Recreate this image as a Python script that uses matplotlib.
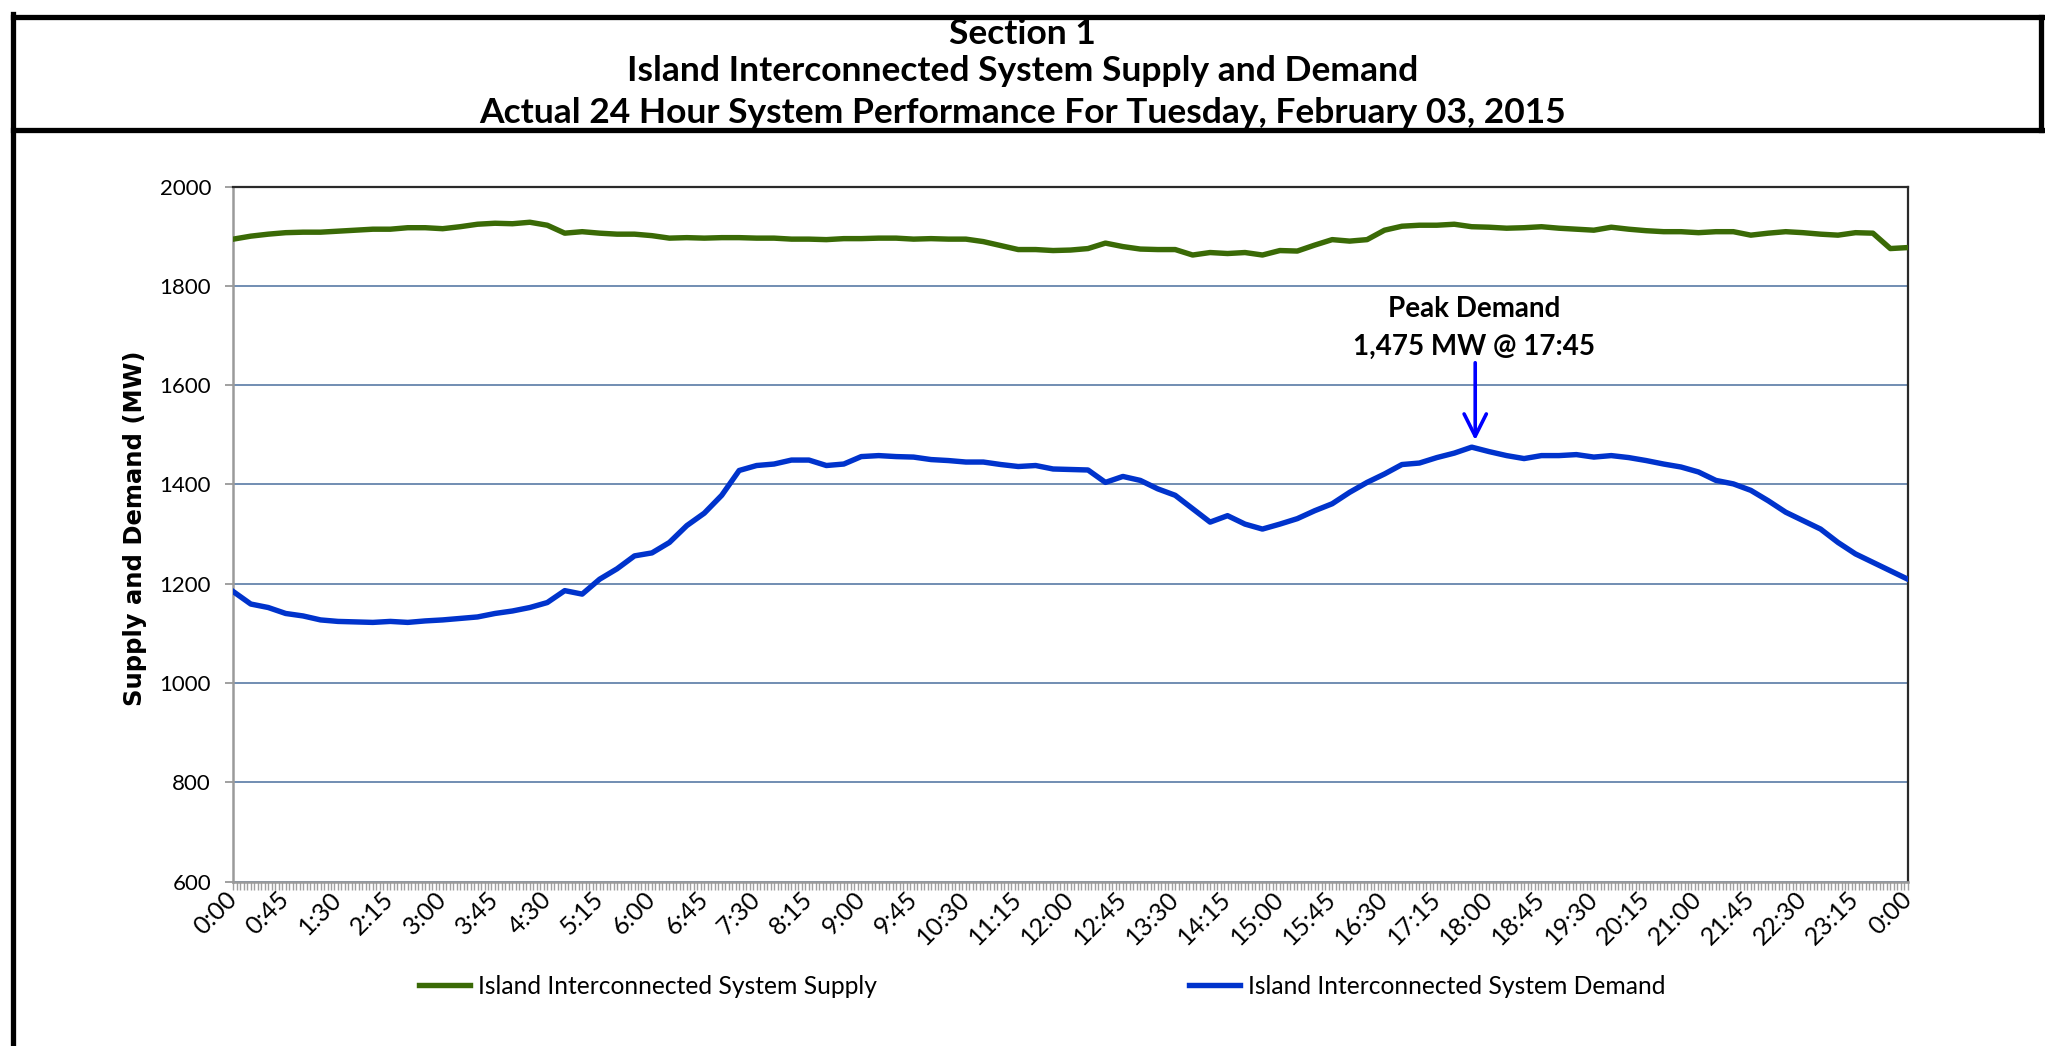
import numpy as np
import matplotlib.pyplot as plt
from matplotlib.lines import Line2D
from matplotlib.ticker import FixedLocator, MultipleLocator

plt.rcParams['font.family'] = 'Lato'

# readings every 15 minutes, minutes after midnight
minutes = np.arange(0, 24 * 60 + 1, 15)

supply = [1894, 1900, 1904, 1907, 1908, 1908, 1910, 1912, 1914, 1914, 1917, 1917,
          1915, 1919, 1924, 1926, 1925, 1928, 1922, 1906, 1909, 1906, 1904, 1904,
          1901, 1896, 1897, 1896, 1897, 1897, 1896, 1896, 1894, 1894, 1893, 1895,
          1895, 1896, 1896, 1894, 1895, 1894, 1894, 1889, 1881, 1873, 1873, 1871,
          1872, 1875, 1886, 1879, 1874, 1873, 1873, 1862, 1867, 1865, 1867, 1862,
          1871, 1870, 1882, 1893, 1890, 1893, 1912, 1920, 1922, 1922, 1924, 1919,
          1918, 1916, 1917, 1919, 1916, 1914, 1912, 1918, 1914, 1911, 1909, 1909,
          1907, 1909, 1909, 1902, 1906, 1909, 1907, 1904, 1902, 1907, 1906, 1875,
          1877]

demand = [1184, 1159, 1152, 1140, 1135, 1127, 1124, 1123, 1122, 1124, 1122, 1125,
          1127, 1130, 1133, 1140, 1145, 1152, 1162, 1186, 1179, 1209, 1230, 1256,
          1262, 1283, 1317, 1342, 1378, 1428, 1438, 1441, 1449, 1449, 1438, 1441,
          1456, 1458, 1456, 1455, 1450, 1448, 1445, 1445, 1440, 1436, 1438, 1431,
          1430, 1429, 1404, 1416, 1408, 1391, 1378, 1351, 1324, 1337, 1320, 1310,
          1320, 1331, 1347, 1361, 1384, 1404, 1421, 1440, 1443, 1454, 1463, 1475,
          1466, 1458, 1452, 1458, 1458, 1460, 1455, 1458, 1454, 1448, 1441, 1435,
          1425, 1408, 1401, 1388, 1367, 1344, 1327, 1310, 1283, 1260, 1243, 1226,
          1209]

tick_minutes = np.arange(0, 24 * 60 + 1, 45)
tick_labels = [f"{(m // 60) % 24}:{m % 60:02d}" for m in tick_minutes]

peak_minute = 17 * 60 + 45
peak_value = 1475

green = '#3A6A06'
blue = '#0033CC'
grid_blue = '#4A6F9E'

fig = plt.figure(figsize=(20.45, 10.46), dpi=100)

# header box lines
for (x0, x1, y0, y1) in [(0.0064, 1.0, 0.9837, 0.9837),
                         (0.0064, 1.0, 0.8757, 0.8757),
                         (0.0064, 0.0064, 0.0, 0.9862),
                         (0.998, 0.998, 0.8757, 0.9837)]:
    fig.add_artist(Line2D([x0, x1], [y0, y1], transform=fig.transFigure,
                          color='black', lw=3.8, solid_capstyle='projecting'))

title_size = 25.5
fig.text(0.5, 1 - 34 / 1046, "Section 1", ha='center', va='center',
         fontsize=title_size, fontweight='bold')
fig.text(0.5, 1 - 71 / 1046, "Island Interconnected System Supply and Demand",
         ha='center', va='center', fontsize=title_size, fontweight='bold')
fig.text(0.5, 1 - 113 / 1046, "Actual 24 Hour System Performance For Tuesday, February 03, 2015",
         ha='center', va='center', fontsize=title_size, fontweight='bold')

ax = fig.add_axes([0.1141, 0.1572, 0.8188, 0.6645])

ax.plot(minutes, supply, color=green, lw=3.9, label='Island Interconnected System Supply',
        solid_joinstyle='round', zorder=3)
ax.plot(minutes, demand, color=blue, lw=3.9, label='Island Interconnected System Demand',
        solid_joinstyle='round', zorder=3)

ax.set_xlim(0, 24 * 60)
ax.set_ylim(600, 2000)
ax.set_yticks(np.arange(600, 2001, 200))
ax.yaxis.grid(True, color=grid_blue, lw=1.1)
ax.set_axisbelow(True)

ax.xaxis.set_major_locator(FixedLocator(tick_minutes))
ax.set_xticklabels(tick_labels, rotation=45, ha='right', va='center',
                   rotation_mode='anchor')
ax.xaxis.set_minor_locator(MultipleLocator(3))
ax.tick_params(axis='x', which='both', length=6, width=1.0, color='#A0A0A0',
               labelsize=18, pad=4)
ax.tick_params(axis='y', length=6, width=1.2, color='#909090', labelsize=16, pad=10)

for side in ['left', 'bottom']:
    ax.spines[side].set_color('#9A9A9A')
    ax.spines[side].set_linewidth(1.8)
for side in ['top', 'right']:
    ax.spines[side].set_color('#2A2A2A')
    ax.spines[side].set_linewidth(1.6)

ax.set_ylabel('Supply and Demand (MW)', family='DejaVu Sans', fontweight='bold', fontsize=17.5)
ax.yaxis.set_label_coords(-0.0587, 0.508)
ax.yaxis.label.set_verticalalignment('center')

# peak annotation
ax.text(peak_minute + 2, 1753, 'Peak Demand', ha='center', va='center',
        fontsize=20, fontweight='bold')
ax.text(peak_minute + 2, 1677, f"{peak_value:,} MW @ 17:45", ha='center', va='center',
        fontsize=20, fontweight='bold')
ax.annotate('', xy=(peak_minute + 3, peak_value + 14), xytext=(peak_minute + 3, 1645),
            arrowprops=dict(arrowstyle='->,head_length=1.6,head_width=0.8',
                            color='#0000FF', lw=2.6, shrinkA=0, shrinkB=0))

ax.legend(loc='center', bbox_to_anchor=(1042.5 / 2045, 1 - 986 / 1046),
          bbox_transform=fig.transFigure, ncol=2, frameon=False, fontsize=17.7,
          handlelength=2.07, handletextpad=0.33, columnspacing=12.7)

fig.savefig('out.png', dpi=100)
